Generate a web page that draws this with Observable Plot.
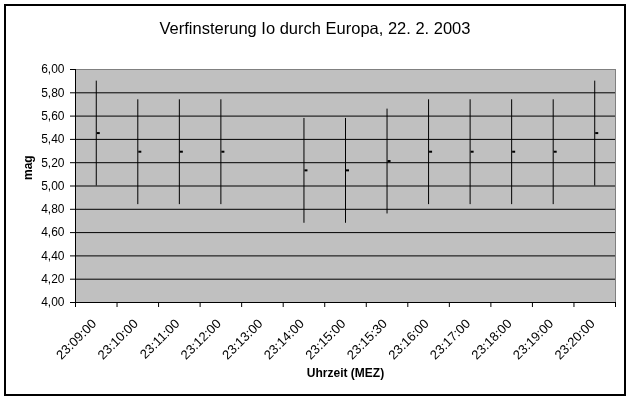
<!DOCTYPE html>
<html>
<head>
<meta charset="utf-8">
<script src="https://cdn.jsdelivr.net/npm/d3@7"></script>
<script src="https://cdn.jsdelivr.net/npm/@observablehq/plot@0.6"></script>
<style>
  html, body { margin: 0; padding: 0; background: #fff; }
  #wrap { position: relative; width: 632px; height: 401px; overflow: hidden; font-family: "Liberation Sans", Arial, sans-serif; }
  #border { position: absolute; left: 4px; top: 4px; width: 622px; height: 392px; box-sizing: border-box; border: 2px solid #000; pointer-events: none; }
  #title { position: absolute; left: 0; top: 20px; width: 630px; text-align: center; font-size: 16.5px; line-height: 16px; color: #000; }
  #chart { position: absolute; left: 0; top: 0; will-change: transform; }
</style>
</head>
<body>
<div id="wrap">
  <div id="chart"></div>
  <div id="border"></div>
  <div id="title">Verfinsterung Io durch Europa, 22. 2. 2003</div>
</div>
<script>
const times = ["23:09:00","23:10:00","23:11:00","23:12:00","23:13:00","23:14:00","23:15:00","23:15:30","23:16:00","23:17:00","23:18:00","23:19:00","23:20:00"];
const mag = [5.45, 5.29, 5.29, 5.29, null, 5.13, 5.13, 5.21, 5.29, 5.29, 5.29, 5.29, 5.45];
const err = [0.45, 0.45, 0.45, 0.45, null, 0.45, 0.45, 0.45, 0.45, 0.45, 0.45, 0.45, 0.45];
const yTicks = [4.0, 4.2, 4.4, 4.6, 4.8, 5.0, 5.2, 5.4, 5.6, 5.8, 6.0];
const xLabel = "Uhrzeit (MEZ)";
const yLabel = "mag";

const rows = times.map((t, i) => ({t, i, mag: mag[i], err: err[i]})).filter(d => d.mag != null);
const centers = times.map((t, i) => i + 0.5);
const bounds = d3.range(times.length + 1);
const fmt = v => v.toFixed(2).replace(".", ",");

const chart = Plot.plot({
  width: 632,
  height: 401,
  marginLeft: 75,
  marginRight: 17,
  marginTop: 69,
  marginBottom: 99,
  style: {fontFamily: "'Liberation Sans', Arial, sans-serif", fontSize: "12px", background: "transparent", color: "#000", overflow: "visible"},
  x: {domain: [0, times.length], axis: null},
  y: {domain: [4, 6], axis: null},
  marks: [
    Plot.frame({fill: "#c0c0c0", stroke: "#808080"}),
    Plot.ruleY(yTicks.filter(v => v > 4 && v < 6), {stroke: "#000", strokeWidth: 1}),
    Plot.ruleX(rows, {x: d => d.i + 0.5, y1: d => d.mag - d.err, y2: d => d.mag + d.err, stroke: "#000", strokeWidth: 1}),
    Plot.rect(rows, {x1: d => d.i + 0.5, x2: d => d.i + 0.5, y1: "mag", y2: "mag", insetLeft: 1, insetRight: -4, insetTop: -1, insetBottom: -1, fill: "#000"}),
    Plot.ruleX([0], {stroke: "#000"}),
    Plot.ruleY([4], {stroke: "#000"}),
    Plot.axisY(yTicks, {tickSize: 5, tickPadding: 6, tickFormat: fmt, label: null, stroke: "#000"}),
    Plot.axisX(bounds, {tickSize: 5, tickFormat: () => "", label: null}),
    Plot.text(centers, {x: d => d, text: d => times[d - 0.5], frameAnchor: "bottom", rotate: -45, textAnchor: "end", lineAnchor: "middle", dx: -2, dy: 19, fontSize: 13, fill: "#000"}),
    Plot.text([xLabel], {frameAnchor: "bottom", lineAnchor: "middle", dy: 71, fontWeight: "bold", fill: "#000"}),
    Plot.text([yLabel], {frameAnchor: "left", lineAnchor: "middle", rotate: -90, dx: -47, dy: -6, fontWeight: "bold", fill: "#000"})
  ]
});
document.getElementById("chart").appendChild(chart);
</script>
</body>
</html>
